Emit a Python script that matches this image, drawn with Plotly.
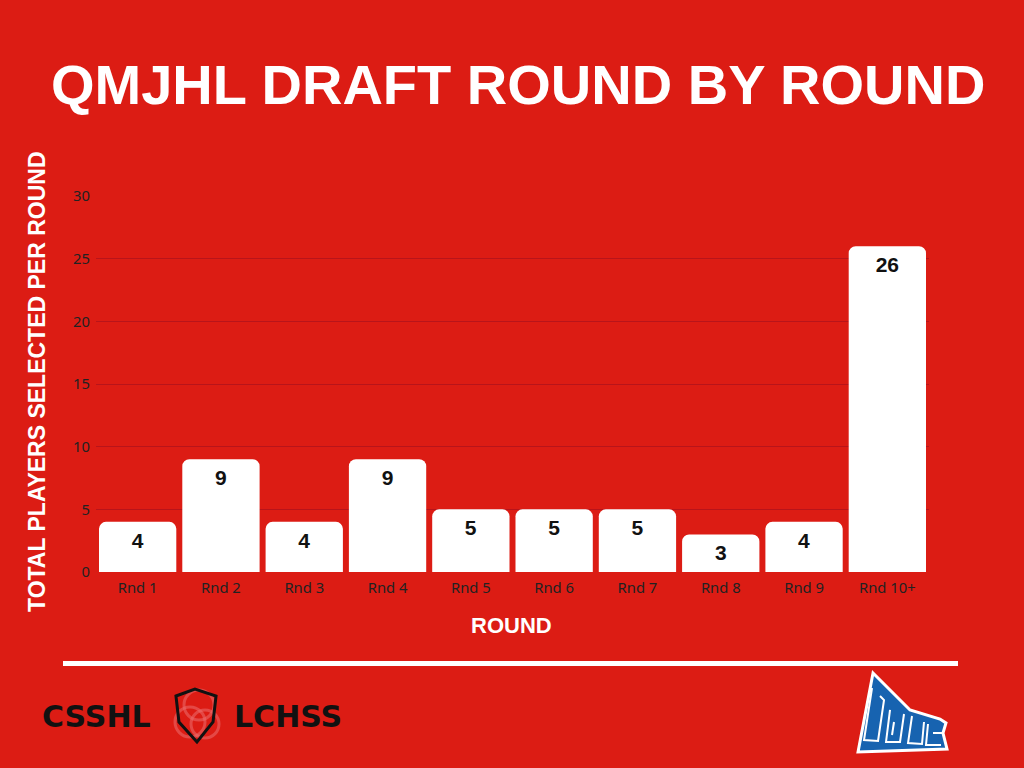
import plotly.graph_objects as go

# data
rounds = ["Rnd 1", "Rnd 2", "Rnd 3", "Rnd 4", "Rnd 5", "Rnd 6", "Rnd 7", "Rnd 8", "Rnd 9", "Rnd 10+"]
players = [4, 9, 4, 9, 5, 5, 5, 3, 4, 26]
y_ticks = [0, 5, 10, 15, 20, 25, 30]

BG = "#DC1C14"
GRID = "#B8141A"
BLUE = "#1763B0"

# plot area in page pixels
L, R, T, B = 96, 929, 196, 572


def px(x, y):
    """ page pixel -> paper coords """
    return (x - L) / (R - L), (B - y) / (B - T)


def path_from(points, close=True):
    parts = []
    for i, (x, y) in enumerate(points):
        u, v = px(x, y)
        parts.append(("M" if i == 0 else "L") + " %.4f %.4f" % (u, v))
    return " ".join(parts) + (" Z" if close else "")


def add_text(fig, text, x, y, size, color="white", family="Liberation Sans, Arial", angle=0):
    u, v = px(x, y)
    fig.add_annotation(x=u, y=v, xref="paper", yref="paper", showarrow=False,
                       xanchor="center", yanchor="middle", textangle=angle, text=text,
                       font=dict(family=family, size=size, color=color, weight="bold"))


fig = go.Figure()

fig.add_trace(go.Bar(
    x=rounds,
    y=players,
    text=players,
    textposition="inside",
    insidetextanchor="end",
    textangle=0,
    textfont=dict(family="Liberation Sans, Arial", size=21, color="#111111", weight="bold"),
    marker=dict(color="white", cornerradius=7, line=dict(width=0)),
    hoverinfo="skip",
))

fig.update_layout(
    width=1024,
    height=768,
    paper_bgcolor=BG,
    plot_bgcolor=BG,
    margin=dict(l=L, r=1024 - R, t=T, b=768 - B),
    bargap=0.072,
    showlegend=False,
    font=dict(family="Noto Sans, Open Sans", size=14, color="#222222"),
)
fig.update_yaxes(
    range=[0, 30],
    tickvals=y_ticks,
    showgrid=True,
    gridcolor=GRID,
    gridwidth=1,
    zeroline=False,
    showline=False,
    ticks="",
    ticklabelstandoff=5,
    tickfont=dict(size=14.8, color="#222222"),
)
fig.update_xaxes(
    showgrid=False,
    showline=False,
    ticks="",
    ticklabelstandoff=5,
    tickfont=dict(size=14.8, color="#222222"),
)

# titles
add_text(fig, "QMJHL DRAFT ROUND BY ROUND", 518, 84, 56)
add_text(fig, "TOTAL PLAYERS SELECTED PER ROUND", 37, 382, 23, angle=-90)
add_text(fig, "ROUND", 511, 625, 22)

# white divider
x0, y0 = px(63, 661)
x1, y1 = px(958, 666)
fig.add_shape(type="rect", xref="paper", yref="paper", x0=x0, y0=y0, x1=x1, y1=y1,
              fillcolor="white", line=dict(width=0), layer="above")

# CSSHL / LCHSS footer logo
add_text(fig, "CSSHL", 96, 716, 30, color="#111111", family="DejaVu Sans")
add_text(fig, "LCHSS", 288, 716, 30, color="#111111", family="DejaVu Sans")

for cx, cy, r in ((199, 705, 15), (190, 722, 15), (205, 724, 14)):
    a0, b0 = px(cx - r, cy + r)
    a1, b1 = px(cx + r, cy - r)
    fig.add_shape(type="circle", xref="paper", yref="paper", x0=a0, y0=b0, x1=a1, y1=b1,
                  line=dict(color="rgba(235,110,110,0.55)", width=3), layer="above")
shield = [(176, 696), (195, 689), (216, 696), (213, 722), (197, 742), (179, 722)]
fig.add_shape(type="path", xref="paper", yref="paper", path=path_from(shield),
              line=dict(color="#111111", width=3), fillcolor="rgba(0,0,0,0)", layer="above")

# QMJHL logo (rough)
qmjhl = [(873, 673), (910, 710), (940, 719), (946, 723), (943, 733), (947, 749), (858, 752)]
fig.add_shape(type="path", xref="paper", yref="paper", path=path_from(qmjhl),
              fillcolor=BLUE, line=dict(color="white", width=3), layer="above")
strokes = [
    [(872, 688), (864, 740), (878, 741), (884, 700), (880, 696)],
    [(890, 710), (886, 742), (900, 742), (904, 714)],
    [(894, 722), (892, 735)],
    [(912, 716), (908, 743), (922, 744), (924, 722)],
    [(928, 724), (926, 745), (941, 745)],
    [(933, 733), (944, 733)],
]
for s in strokes:
    fig.add_shape(type="path", xref="paper", yref="paper", path=path_from(s, close=False),
                  line=dict(color="white", width=2), layer="above")

fig.write_html("out.html", config={"displayModeBar": False},
               post_script="document.body.style.margin='0';")
